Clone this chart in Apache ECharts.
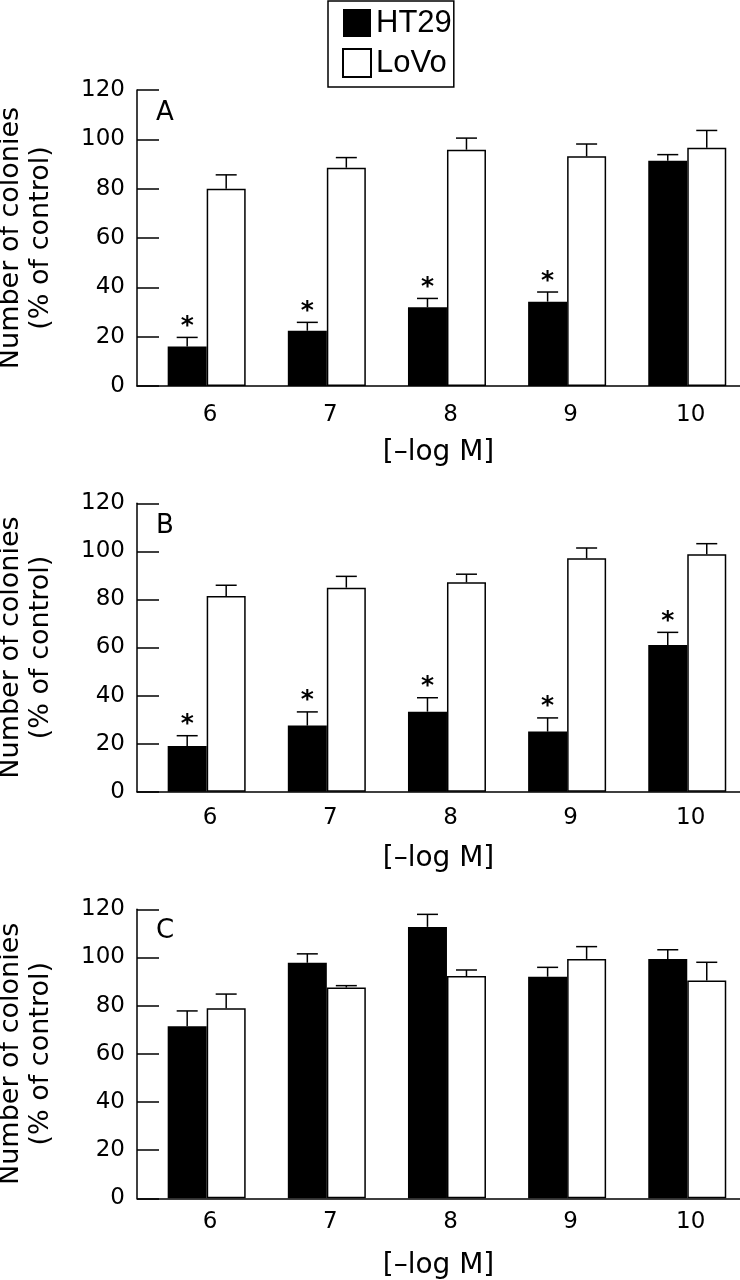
<!DOCTYPE html>
<html>
<head>
<meta charset="utf-8">
<script src="https://cdn.jsdelivr.net/npm/echarts@6/dist/echarts.min.js"></script>
<style>
  html, body { margin: 0; padding: 0; background: #fff; }
  #chart { width: 740px; height: 1280px; }
</style>
</head>
<body>
<div id="chart"></div>
<script>
// ---- data ----
const concentrations = [6, 7, 8, 9, 10];
const xTickLabels = ['6', '7', '8', '9', '10'];
const yTicks = [0, 20, 40, 60, 80, 100, 120];
const panelLetters = ['A', 'B', 'C'];
const seriesNames = ['HT29', 'LoVo'];
const xAxisName = '[–log M]';
const yAxisName = 'Number of colonies\n(% of control)';

const ht29A = [16.0, 22.4, 31.9, 34.2, 91.3];
const ht29ErrA = [3.7, 3.4, 3.6, 3.9, 2.5];
const lovoA = [80.0, 88.5, 95.8, 93.1, 96.6];
const lovoErrA = [5.6, 4.1, 4.7, 5.0, 7.0];
const starsA = [1, 1, 1, 1, 0];

const ht29B = [19.0, 27.5, 33.3, 25.0, 61.0];
const ht29ErrB = [4.3, 5.7, 5.8, 5.7, 5.3];
const lovoB = [81.4, 84.9, 87.1, 97.1, 98.8];
const lovoErrB = [4.5, 4.7, 3.4, 4.3, 4.4];
const starsB = [1, 1, 1, 1, 1];

const ht29C = [71.4, 97.8, 112.7, 92.0, 99.4];
const ht29ErrC = [6.4, 3.7, 5.2, 3.9, 3.8];
const lovoC = [78.9, 87.5, 92.3, 99.4, 90.4];
const lovoErrC = [5.9, 0.8, 2.5, 5.1, 7.6];
const starsC = [0, 0, 0, 0, 0];

const panels = [
  { ht29: ht29A, ht29Err: ht29ErrA, lovo: lovoA, lovoErr: lovoErrA, stars: starsA },
  { ht29: ht29B, ht29Err: ht29ErrB, lovo: lovoB, lovoErr: lovoErrB, stars: starsB },
  { ht29: ht29C, ht29Err: ht29ErrC, lovo: lovoC, lovoErr: lovoErrC, stars: starsC }
];

// ---- layout / style ----
const FONT = 'DejaVu Sans';
const BAR_W = 39;
const CAP_W = 21;
const LW = 1.5;
const gridTops = [90, 503.3, 909.3];
const gridHeights = [296, 288.4, 289];
const labelMargins = [18, 15, 12];
const X_MIN = 5.42, X_MAX = 10.439;
const letterTops = [100, 513.7, 918.7];

const chart = echarts.init(document.getElementById('chart'));

function errRenderer(side, stars) {
  return function (params, api) {
    const x = api.value(0), v = api.value(1), e = api.value(2);
    const base = api.coord([x, v]);
    const top = api.coord([x, v + e]);
    const cx = base[0] + side * BAR_W / 2;
    const children = [
      { type: 'line', shape: { x1: cx, y1: base[1], x2: cx, y2: top[1] },
        style: { stroke: '#000', lineWidth: LW } },
      { type: 'line', shape: { x1: cx - CAP_W / 2, y1: top[1], x2: cx + CAP_W / 2, y2: top[1] },
        style: { stroke: '#000', lineWidth: LW } }
    ];
    if (stars && stars[params.dataIndex]) {
      children.push({ type: 'text', x: cx, y: top[1] - 11,
        style: { text: '*', fill: '#000', font: 'bold 25px "DejaVu Sans"', align: 'center', verticalAlign: 'middle' } });
    }
    return { type: 'group', children: children };
  };
}

const grid = [], xAxis = [], yAxis = [], series = [], title = [];
panels.forEach(function (p, i) {
  grid.push({ left: 137, right: 0, top: gridTops[i], height: gridHeights[i],
    containLabel: false, outerBoundsMode: 'none' });
  title.push({ text: panelLetters[i], left: 156, top: letterTops[i], padding: 0,
    textStyle: { fontFamily: FONT, fontSize: 26, fontWeight: 'normal', color: '#000' } });
  xAxis.push({
    type: 'value', gridIndex: i, min: X_MIN, max: X_MAX,
    name: xAxisName, nameLocation: 'middle', nameGap: 53,
    nameTextStyle: { fontFamily: FONT, fontSize: 28, color: '#000' },
    axisLine: { show: true, lineStyle: { color: '#000', width: LW } },
    axisTick: { show: false },
    splitLine: { show: false },
    axisLabel: {
      customValues: concentrations,
      formatter: function (val) { return xTickLabels[concentrations.indexOf(val)]; },
      fontFamily: FONT, fontSize: 23, color: '#000', margin: labelMargins[i], padding: [0, 0, 0, 7]
    }
  });
  yAxis.push({
    type: 'value', gridIndex: i, min: yTicks[0], max: yTicks[yTicks.length - 1], interval: 20,
    name: yAxisName, nameLocation: 'middle', nameGap: 81,
    nameTextStyle: { fontFamily: FONT, fontSize: 27, color: '#000', lineHeight: 30 },
    axisLine: { show: true, lineStyle: { color: '#000', width: LW } },
    axisTick: { show: true, inside: true, length: 22, lineStyle: { color: '#000', width: LW } },
    splitLine: { show: false },
    axisLabel: { fontFamily: FONT, fontSize: 23, color: '#000', margin: 12 }
  });
  const ht29Data = concentrations.map(function (c, k) { return [c, p.ht29[k]]; });
  const lovoData = concentrations.map(function (c, k) { return [c, p.lovo[k]]; });
  series.push({
    name: seriesNames[0], type: 'bar', xAxisIndex: i, yAxisIndex: i,
    barWidth: BAR_W, barGap: '0%', data: ht29Data,
    itemStyle: { color: '#000', borderColor: '#000', borderWidth: 0 }
  });
  series.push({
    name: seriesNames[1], type: 'bar', xAxisIndex: i, yAxisIndex: i,
    barWidth: BAR_W, barGap: '0%', data: lovoData,
    itemStyle: { color: '#fff', borderColor: '#000', borderWidth: LW }
  });
  series.push({
    name: 'err-ht29-' + i, type: 'custom', xAxisIndex: i, yAxisIndex: i,
    renderItem: errRenderer(-1, p.stars),
    encode: { x: 0, y: 1 }, z: 3,
    data: concentrations.map(function (c, k) { return [c, p.ht29[k], p.ht29Err[k]]; })
  });
  series.push({
    name: 'err-lovo-' + i, type: 'custom', xAxisIndex: i, yAxisIndex: i,
    renderItem: errRenderer(1, null),
    encode: { x: 0, y: 1 }, z: 3,
    data: concentrations.map(function (c, k) { return [c, p.lovo[k], p.lovoErr[k]]; })
  });
});

chart.setOption({
  animation: false,
  backgroundColor: '#fff',
  title: title,
  legend: {
    data: seriesNames, orient: 'vertical', left: 328, top: 1,
    padding: [6.5, 2, 8.5, 14], itemWidth: 28, itemHeight: 28, itemGap: 9,
    borderColor: '#000', borderWidth: LW, selectedMode: false, icon: 'rect',
    textStyle: { fontFamily: 'Liberation Sans', fontSize: 31, color: '#000' }
  },
  grid: grid, xAxis: xAxis, yAxis: yAxis, series: series
});
</script>
</body>
</html>
